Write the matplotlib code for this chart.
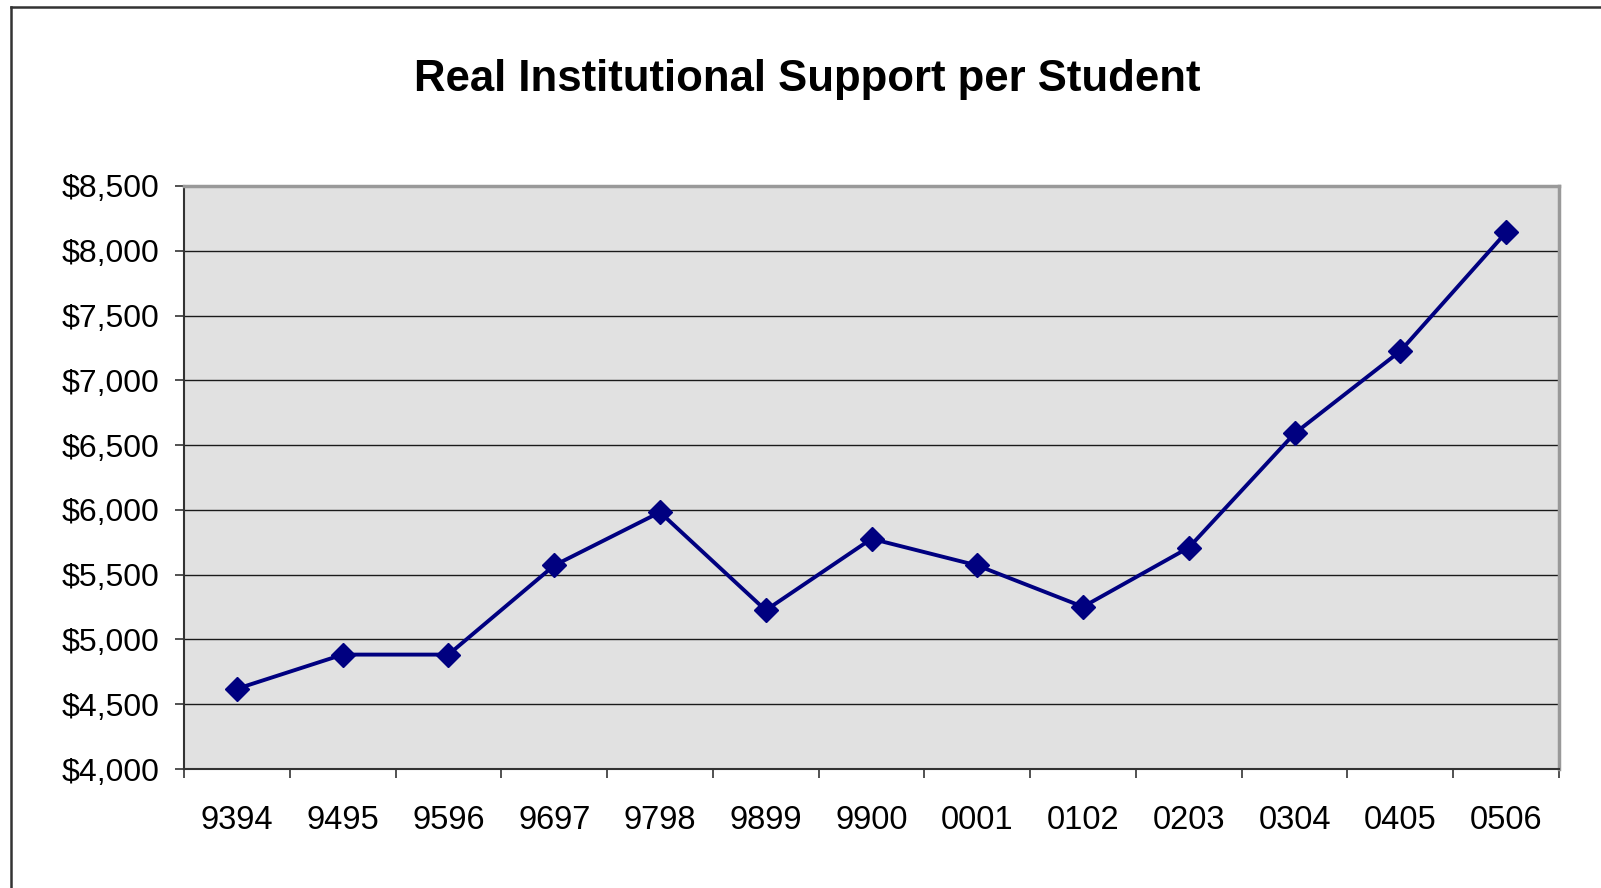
import matplotlib
matplotlib.use("Agg")
from matplotlib import pyplot as plt
from matplotlib.lines import Line2D
from matplotlib.ticker import FuncFormatter, FixedLocator
import numpy as np

plt.rcParams['font.family'] = ['Liberation Sans', 'DejaVu Sans']

years = ['9394', '9495', '9596', '9697', '9798', '9899', '9900',
         '0001', '0102', '0203', '0304', '0405', '0506']
support = [4619, 4883, 4883, 5571, 5982, 5225, 5777,
           5571, 5252, 5709, 6590, 7226, 8142]
y_ticks = list(range(4000, 8501, 500))

fig = plt.figure(figsize=(16.01, 8.88), dpi=100)
ax = fig.add_axes([184/1601, 1 - 769/888, (1559-184)/1601, (769-186)/888])

x = np.arange(len(years))
ax.plot(x, support, color='#000080', lw=2.8, marker='D', ms=12,
        markeredgecolor='#000080', zorder=3, clip_on=False)

ax.set_facecolor('#e1e1e1')
ax.set_xlim(-0.5, len(years) - 0.5)
ax.set_ylim(4000, 8500)
ax.set_yticks(y_ticks)
ax.yaxis.set_major_formatter(FuncFormatter(lambda v, p: '${:,.0f}'.format(v)))
ax.grid(axis='y', color='#1a1a1a', lw=1.0)
ax.set_axisbelow(True)

# category labels centred, tick marks between categories
ax.set_xticks(x)
ax.set_xticklabels(years)
ax.xaxis.set_minor_locator(FixedLocator(np.arange(-0.5, len(years), 1)))
ax.tick_params(axis='x', which='major', length=0, pad=26, labelsize=23.5)
ax.tick_params(axis='x', which='minor', length=6.5, width=1.2, color='#333333')
ax.tick_params(axis='y', length=6.5, width=1.2, color='#333333', pad=11.5, labelsize=23)

for s in ['left', 'bottom']:
    ax.spines[s].set_color('#333333')
    ax.spines[s].set_linewidth(1.5)
for s in ['top', 'right']:
    ax.spines[s].set_color('#999999')
    ax.spines[s].set_linewidth(2.5)

fig.text(807/1601, 1 - 80/888, 'Real Institutional Support per Student',
         ha='center', va='center', fontsize=31.5, fontweight='bold')

# outer chart border (left and top edges visible)
fig.add_artist(Line2D([11/1601, 11/1601], [0, 1 - 7/888], transform=fig.transFigure,
                      color='#333333', lw=1.8))
fig.add_artist(Line2D([11/1601, 1], [1 - 7/888, 1 - 7/888], transform=fig.transFigure,
                      color='#333333', lw=1.8))

fig.savefig('out.png', dpi=100)
